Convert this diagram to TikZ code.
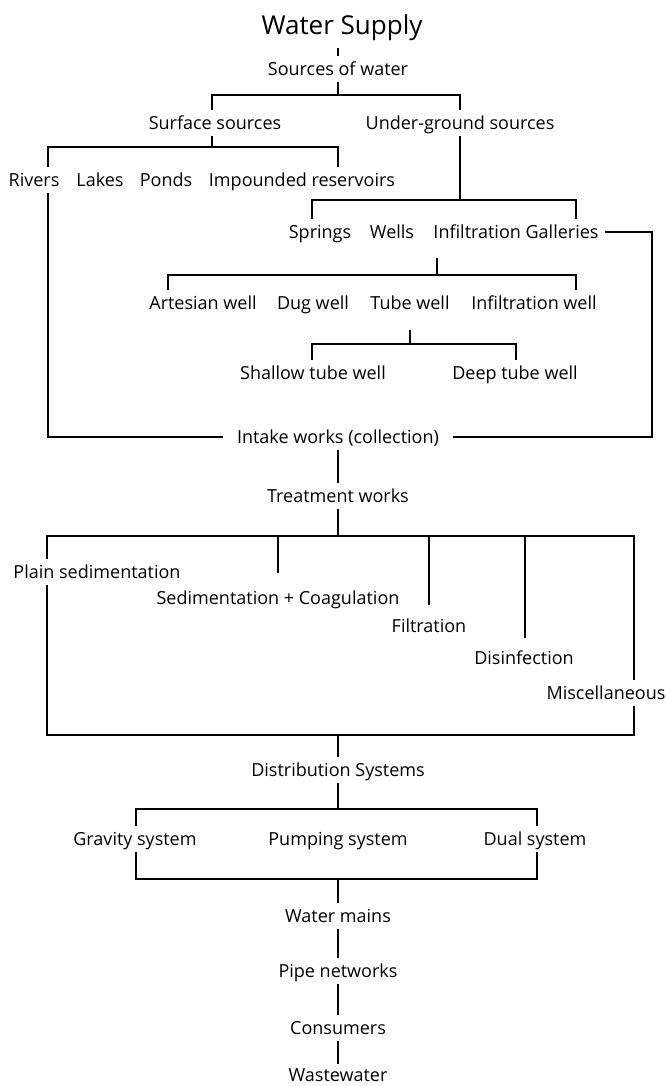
\documentclass[tikz,border=0pt]{standalone}
\usepackage{fontspec}
\setmainfont{Open Sans}
\tikzset{
  txt/.style={inner sep=0pt, minimum height=26pt, text height=13pt, text depth=0pt,
    font=\fontsize{18}{20}\selectfont},
  hd/.style={inner sep=0pt, minimum height=46pt, text height=19pt, text depth=0pt,
    font=\fontsize{26}{28}\selectfont},
  ln/.style={line width=1.2pt},
}

\begin{document}
\begin{tikzpicture}[x=1pt,y=-1pt]
  \useasboundingbox (0,0) rectangle (666,1086);

  % texts
  \node[hd] (title) at (342,25) {Water Supply};
  \node[txt] (src) at (338,69) {Sources of water};
  \node[txt] (surf) at (215,123) {Surface sources};
  \node[txt] (under) at (460,123) {Under-ground sources};
  \node[txt] (rivers) at (34,180) {Rivers};
  \node[txt] (lakes) at (100,180) {Lakes};
  \node[txt] (ponds) at (166,180) {Ponds};
  \node[txt] (impounded) at (302,180) {Impounded reservoirs};
  \node[txt] (springs) at (320,232) {Springs};
  \node[txt, minimum height=52pt] (wells) at (392,232) {Wells};
  \node[txt, inner xsep=6pt] (galleries) at (516,232) {Infiltration Galleries};
  \node[txt] (artesian) at (203,303) {Artesian well};
  \node[txt] (dug) at (313,303) {Dug well};
  \node[txt, minimum height=54pt] (tube) at (410,303) {Tube well};
  \node[txt] (infwell) at (534,303) {Infiltration well};
  \node[txt] (shallow) at (313,373) {Shallow tube well};
  \node[txt] (deep) at (515,373) {Deep tube well};
  \node[txt, inner xsep=14pt] (intake) at (338,437) {Intake works (collection)};
  \node[txt] (treat) at (338,496) {Treatment works};
  \node[txt] (plain) at (97,572) {Plain sedimentation};
  \node[txt, minimum height=50pt] (sedcoag) at (278,598) {Sedimentation + Coagulation};
  \node[txt, minimum height=42pt] (filt) at (429,626) {Filtration};
  \node[txt, minimum height=40pt] (disinf) at (524,658) {Disinfection};
  \node[txt] (misc) at (606,693) {Miscellaneous};
  \node[txt] (dist) at (338,770) {Distribution Systems};
  \node[txt] (gravity) at (135,839) {Gravity system};
  \node[txt] (pumping) at (338,839) {Pumping system};
  \node[txt] (dual) at (535,839) {Dual system};
  \node[txt] (mains) at (338,916) {Water mains};
  \node[txt] (pipes) at (338,971) {Pipe networks};
  \node[txt] (consumers) at (338,1028) {Consumers};
  \node[txt, minimum height=22pt] (waste) at (338,1075) {Wastewater};

  % junctions
  \coordinate (s0) at (338,95);
  \coordinate (s1) at (212,95);
  \coordinate (s2) at (460,95);
  \coordinate (f0) at (212,147);
  \coordinate (f1) at (48,147);
  \coordinate (f2) at (338,147);
  \coordinate (g1) at (652,232);
  \coordinate (u0) at (460,200);
  \coordinate (u1) at (312,200);
  \coordinate (u2) at (576,200);
  \coordinate (w1) at (437,275);
  \coordinate (w2) at (168,275);
  \coordinate (w3) at (576,275);
  \coordinate (t1) at (410,344);
  \coordinate (t2) at (312,344);
  \coordinate (t3) at (516,344);
  \coordinate (r0) at (338,536);
  \coordinate (r1) at (47,536);
  \coordinate (r2) at (278,536);
  \coordinate (r3) at (429,536);
  \coordinate (r4) at (525,536);
  \coordinate (r5) at (634,536);
  \coordinate (b0) at (338,735);
  \coordinate (b1) at (47,735);
  \coordinate (b2) at (634,735);
  \coordinate (d0) at (338,809);
  \coordinate (d1) at (136,809);
  \coordinate (d2) at (537,809);
  \coordinate (e0) at (338,879);
  \coordinate (e1) at (136,879);
  \coordinate (e2) at (537,879);

  % sources
  \draw[ln] (title.south -| src) -- (src.north);
  \draw[ln] (src.south) -- (s0);
  \draw[ln] (surf.north -| s1) |- (s2) -- (under.north -| s2);
  \draw[ln] (surf.south -| f0) -- (f0);
  \draw[ln] (rivers.north -| f1) |- (f2) -- (impounded.north -| f2);
  \draw[ln] (rivers.south -| f1) |- (intake.west);
  \draw[ln] (galleries.east) -- (g1) |- (intake.east);
  \draw[ln] (under.south -| u0) -- (u0);
  \draw[ln] (springs.north -| u1) |- (u2) -- (galleries.north -| u2);
  \draw[ln] (wells.south -| w1) -- (w1);
  \draw[ln] (artesian.north -| w2) |- (w3) -- (infwell.north -| w3);
  \draw[ln] (tube.south) -- (t1);
  \draw[ln] (shallow.north -| t2) |- (t3) -- (deep.north -| t3);

  % treatment
  \draw[ln] (intake.south) -- (treat.north);
  \draw[ln] (treat.south) -- (r0);
  \draw[ln] (plain.north -| r1) |- (r5) -- (misc.north -| r5);
  \draw[ln] (r2) -- (sedcoag.north -| r2);
  \draw[ln] (r3) -- (filt.north -| r3);
  \draw[ln] (r4) -- (disinf.north -| r4);
  \draw[ln] (plain.south -| r1) -- (b1) -- (b2) -- (misc.south -| r5);
  \draw[ln] (b0) -- (dist.north);

  % distribution
  \draw[ln] (dist.south) -- (d0);
  \draw[ln] (gravity.north -| d1) |- (d2) -- (dual.north -| d2);
  \draw[ln] (gravity.south -| d1) -- (e1) -- (e2) -- (dual.south -| d2);
  \draw[ln] (e0) -- (mains.north);
  \draw[ln] (mains.south) -- (pipes.north);
  \draw[ln] (pipes.south) -- (consumers.north);
  \draw[ln] (consumers.south) -- (waste.north);
\end{tikzpicture}
\end{document}
